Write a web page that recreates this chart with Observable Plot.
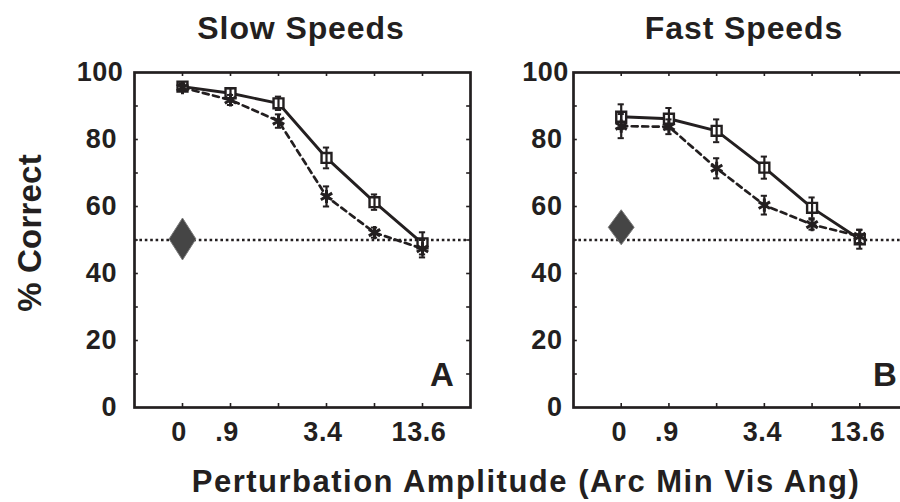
<!DOCTYPE html>
<html><head><meta charset="utf-8">
<script src="https://cdn.jsdelivr.net/npm/d3@7"></script>
<script src="https://cdn.jsdelivr.net/npm/@observablehq/plot@0.6"></script>
<style>
html,body{margin:0;padding:0;background:#fff;}
#chart{position:relative;width:900px;height:502px;overflow:hidden;font-family:"Liberation Sans",Arial,sans-serif;font-weight:bold;color:#231f20;}
.lbl{position:absolute;white-space:nowrap;font-size:32px;line-height:32px;letter-spacing:0.9px;}
.panel{position:absolute;top:0;}
.panel text{font-weight:bold;letter-spacing:0.6px;}
</style></head><body>
<div id="chart">
  <div class="lbl" style="left:301px;top:12px;transform:translateX(-50%);">Slow Speeds</div>
  <div class="lbl" style="left:744px;top:12px;transform:translateX(-50%);">Fast Speeds</div>
  <div class="lbl" style="left:526px;top:466px;font-size:31px;line-height:31px;letter-spacing:1.5px;transform:translateX(-50%);">Perturbation Amplitude (Arc Min Vis Ang)</div>
  <div class="lbl" style="left:29px;top:233px;font-size:33px;line-height:33px;letter-spacing:0.2px;transform:translate(-50%,-50%) rotate(-90deg);">% Correct</div>
</div>
<script>
// ---- data ----
const levels = [0, 1, 2, 3, 4, 5];
const tickPositions = [0, 1, 3, 5];
const tickLabels = ["0", ".9", "3.4", "13.6"];
const yTicks = [0, 20, 40, 60, 80];
const yTop = [100];
const yMinor = [10, 20, 30, 40, 50, 60, 70, 80, 90];
const chance = 50;

const slowSquare    = [95.8, 93.8, 90.8, 74.5, 61.3, 49.0];
const slowSquareErr = [1.0, 1.5, 2.0, 3.1, 2.3, 3.3];
const slowStar      = [95.5, 91.8, 85.5, 63.0, 52.2, 47.4];
const slowStarErr   = [1.0, 1.5, 2.0, 3.0, 1.5, 2.6];
const slowDiamond   = 50.3;

const fastSquare    = [86.8, 86.2, 82.6, 71.6, 59.6, 50.2];
const fastSquareErr = [3.7, 3.2, 3.4, 3.3, 3.1, 2.8];
const fastStar      = [84.0, 83.8, 71.4, 60.4, 54.6, 51.1];
const fastStarErr   = [3.6, 2.2, 3.0, 2.8, 1.5, 2.0];
const fastDiamond   = 53.8;

// ---- drawing ----
const ink = "#231f20";
const xDomain = [-1, 6];
const yDomain = [0, 100];
const tickLenY = 1.2;   // inner tick length in y units
const tickLenX = 0.08;  // inner tick length in x units
const capHalf = 0.065;  // error bar cap half width in x units

function diamondSymbol(ratio) {
  return {
    draw(ctx, size) {
      const hh = Math.sqrt(size / (2 * ratio));
      const hw = hh * ratio;
      ctx.moveTo(0, -hh);
      ctx.lineTo(hw, 0);
      ctx.lineTo(0, hh);
      ctx.lineTo(-hw, 0);
      ctx.closePath();
    }
  };
}

function rows(vals, errs) {
  return levels.map((x, i) => ({x, y: vals[i], lo: vals[i] - errs[i], hi: vals[i] + errs[i]}));
}

function errMarks(data) {
  return [
    Plot.ruleX(data, {x: "x", y1: "lo", y2: "hi", stroke: ink, strokeWidth: 2.2}),
    Plot.ruleY(data, {y: "lo", x1: d => d.x - capHalf, x2: d => d.x + capHalf, stroke: ink, strokeWidth: 2}),
    Plot.ruleY(data, {y: "hi", x1: d => d.x - capHalf, x2: d => d.x + capHalf, stroke: ink, strokeWidth: 2})
  ];
}

function panel(o) {
  const sq = rows(o.sq, o.sqErr);
  const st = rows(o.st, o.stErr);
  return Plot.plot({
    width: o.width, height: 502,
    marginTop: 72, marginBottom: 95, marginLeft: o.ml, marginRight: o.mr,
    x: {domain: xDomain},
    y: {domain: yDomain},
    style: {fontFamily: "'Liberation Sans', Arial, sans-serif", color: ink, background: "transparent", maxWidth: "none"},
    marks: [
      Plot.ruleY([chance], {stroke: ink, strokeWidth: 2.4, strokeDasharray: "2.6,2.8"}),
      Plot.dot([{x: levels[0], y: o.diamond}], {x: "x", y: "y", symbol: diamondSymbol(o.dratio), r: o.dr, fill: "#454545", stroke: "#7a7a7a", strokeWidth: 1}),
      Plot.line(st, {x: "x", y: "y", stroke: ink, strokeWidth: 2.7, strokeDasharray: "6,4.5"}),
      Plot.line(sq, {x: "x", y: "y", stroke: ink, strokeWidth: 2.9}),
      Plot.dot(sq, {x: "x", y: "y", symbol: "square", r: 5.6, fill: "white", stroke: ink, strokeWidth: 2.4}),
      ...errMarks(sq),
      ...errMarks(st),
      Plot.dot(st, {x: "x", y: "y", symbol: "asterisk", r: 6.2, stroke: ink, strokeWidth: 3}),
      // inner ticks
      Plot.ruleX(levels, {x: d => d, y1: yDomain[0], y2: yDomain[0] + tickLenY, stroke: ink, strokeWidth: 1.6}),
      Plot.ruleX(levels, {x: d => d, y1: yDomain[1] - tickLenY, y2: yDomain[1], stroke: ink, strokeWidth: 1.6}),
      Plot.ruleY(yMinor, {y: d => d, x1: xDomain[0], x2: xDomain[0] + tickLenX, stroke: ink, strokeWidth: 1.6}),
      Plot.ruleY(yMinor, {y: d => d, x1: xDomain[1] - tickLenX, x2: xDomain[1], stroke: ink, strokeWidth: 1.6}),
      Plot.frame({stroke: ink, strokeWidth: 2.7}),
      Plot.axisX(tickPositions, {anchor: "bottom", tickSize: 0, tickPadding: 14.5, dx: o.xdx, fontSize: 27, label: null,
        tickFormat: d => tickLabels[tickPositions.indexOf(d)]}),
      Plot.axisY(yTicks, {anchor: "left", tickSize: 0, tickPadding: o.yPad, fontSize: 27, label: null}),
      Plot.axisY(yTop, {anchor: "left", tickSize: 0, tickPadding: o.yPad100, fontSize: 27, label: null}),
      Plot.text([o.letter], {text: d => d, frameAnchor: "bottom-right", textAnchor: "end", lineAnchor: "bottom",
        dx: o.ldx, dy: -22, fontSize: 33, fontWeight: "bold"})
    ]
  });
}

const chart = document.getElementById("chart");
function place(svg, left, width) {
  const w = document.createElement("div");
  w.className = "panel";
  w.style.left = left + "px";
  w.style.width = width + "px";
  w.appendChild(svg);
  chart.insertBefore(w, chart.firstChild);
}

place(panel({sq: slowSquare, sqErr: slowSquareErr, st: slowStar, stErr: slowStarErr, diamond: slowDiamond,
  letter: "A", width: 480, ml: 134, mr: 10, dr: 13.4, dratio: 0.64, xdx: -3.5, yPad: 17.5, yPad100: 11, ldx: -16}), 0, 480);
place(panel({sq: fastSquare, sqErr: fastSquareErr, st: fastStar, stErr: fastStarErr, diamond: fastDiamond,
  letter: "B", width: 440, ml: 93, mr: 13, dr: 12, dratio: 0.74, xdx: -2, yPad: 11, yPad100: 4.5, ldx: -10}), 480, 440);
</script>
</body></html>
